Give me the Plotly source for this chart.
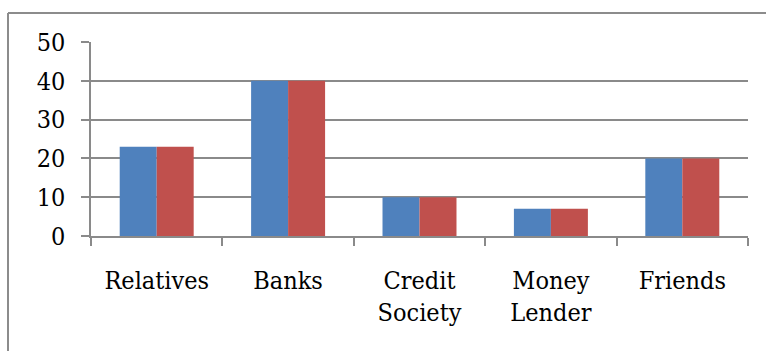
import plotly.graph_objects as go

# Sources of borrowing, two series per source
categories = ["Relatives", "Banks", "Credit<br>Society", "Money<br>Lender", "Friends"]
series_a = [23, 40, 10, 7, 20]
series_b = [23, 40, 10, 7, 20]
y_ticks = [0, 10, 20, 30, 40, 50]

W, H = 766, 351
ML, MR, MT, MB = 91, 18, 42, 115
PW, PH = W - ML - MR, H - MT - MB

GRID = "#8a8a8a"
FONT = dict(family="'DejaVu Serif Condensed', 'DejaVu Serif', serif", size=25, color="black")

fig = go.Figure()
fig.add_trace(go.Bar(x=categories, y=series_a, name="Series1",
                     marker=dict(color="#4F81BD", line=dict(width=0))))
fig.add_trace(go.Bar(x=categories, y=series_b, name="Series2",
                     marker=dict(color="#C0504D", line=dict(width=0))))

# outer frame of the chart (left and top edges visible)
def px_to_paper_x(px):
    return (px - ML) / PW

def px_to_paper_y(py):
    return 1 - (py - MT) / PH

fx, fy = px_to_paper_x(8), px_to_paper_y(13)
fig.add_shape(type="line", xref="paper", yref="paper",
              x0=fx, x1=fx, y0=px_to_paper_y(H + 5), y1=fy,
              line=dict(color="#8c8c8c", width=2))
fig.add_shape(type="line", xref="paper", yref="paper",
              x0=fx, x1=px_to_paper_x(767), y0=fy, y1=fy,
              line=dict(color="#8c8c8c", width=2))

fig.update_layout(
    width=W, height=H,
    margin=dict(l=ML, r=MR, t=MT, b=MB),
    paper_bgcolor="white", plot_bgcolor="white",
    barmode="group", bargap=0.437, bargroupgap=0,
    showlegend=False,
    font=FONT,
)
fig.update_xaxes(
    showline=True, linecolor=GRID, linewidth=1.5,
    ticks="outside", tickson="boundaries", ticklen=8, tickcolor=GRID, tickwidth=1.5,
    ticklabelstandoff=21,
    showgrid=False, tickfont=FONT,
)
fig.update_yaxes(
    range=[0, 50], tickvals=y_ticks,
    showline=True, linecolor=GRID, linewidth=1.5,
    ticks="outside", ticklen=8, tickcolor=GRID, tickwidth=1.5,
    ticklabelstandoff=11,
    showgrid=True, gridcolor=GRID, gridwidth=1.5,
    zeroline=False, tickfont=FONT,
)

fig.write_html("out.html")
